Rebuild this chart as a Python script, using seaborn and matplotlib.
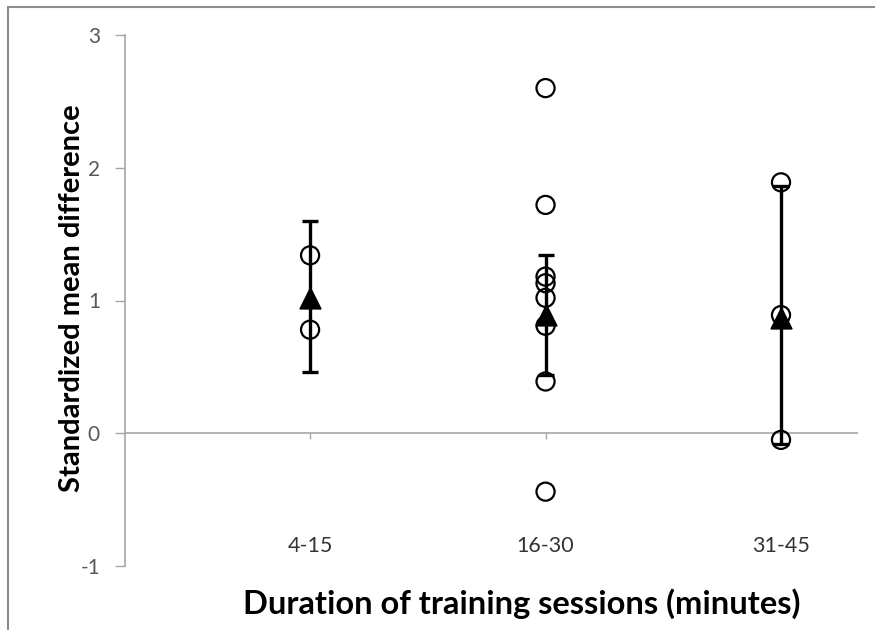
import matplotlib
matplotlib.use("Agg")
import matplotlib.pyplot as plt
from matplotlib.patches import Rectangle
import seaborn as sns
import pandas as pd

# Session-duration groups and their individual study effect sizes
groups = ["4-15", "16-30", "31-45"]
study_group = ["4-15", "4-15",
               "16-30", "16-30", "16-30", "16-30", "16-30", "16-30", "16-30", "16-30",
               "31-45", "31-45", "31-45"]
study_smd = [1.34, 0.78,
             2.60, 1.72, 1.18, 1.13, 1.02, 0.81, 0.39, -0.44,
             1.89, 0.89, -0.05]

# Pooled estimates with confidence limits per group
pooled_mean = [1.02, 0.89, 0.87]
ci_low = [0.46, 0.44, -0.08]
ci_high = [1.60, 1.34, 1.86]

yticks = [-1, 0, 1, 2, 3]

sns.set_theme(style="white")
plt.rcParams["font.family"] = ["Lato", "DejaVu Sans"]

fig = plt.figure(figsize=(8.75, 6.3), dpi=100)
ax = fig.add_axes([125 / 875, 1 - 566 / 630, (858 - 125) / 875, (566 - 35) / 630])

pos = {g: i for i, g in enumerate(groups)}
df = pd.DataFrame({"x": [pos[g] for g in study_group], "smd": study_smd})
pooled = pd.DataFrame({"x": list(range(len(groups))), "mean": pooled_mean,
                       "lo": ci_low, "hi": ci_high})

# Confidence intervals for the pooled estimates
ax.errorbar(pooled["x"], pooled["mean"],
            yerr=[pooled["mean"] - pooled["lo"], pooled["hi"] - pooled["mean"]],
            fmt="none", ecolor="black", elinewidth=2.4, capsize=6, capthick=2.4,
            zorder=2)

# Individual studies as open circles
sns.scatterplot(data=df, x="x", y="smd", ax=ax, marker="o", s=170,
                facecolor="none", edgecolor="black", linewidth=1.6, zorder=3,
                legend=False)

# Pooled means as filled triangles
sns.scatterplot(data=pooled, x="x", y="mean", ax=ax, marker="^", s=220,
                color="black", edgecolor="black", zorder=4, legend=False)

ax.set_xlim(-0.786, 2.327)
ax.set_ylim(-1, 3)

# Horizontal axis crossing at zero
ax.axhline(0, color="#a6a6a6", lw=1.2, zorder=1)
ax.vlines(range(len(groups)), -0.045, 0, color="#a6a6a6", lw=1.0, zorder=1)

for side in ["top", "right", "bottom"]:
    ax.spines[side].set_visible(False)
ax.spines["left"].set_color("#a6a6a6")
ax.spines["left"].set_linewidth(1.2)

ax.set_yticks(yticks)
ax.set_yticklabels([str(v) for v in yticks])
ax.tick_params(axis="y", direction="out", length=7, width=1.0, color="#a6a6a6",
               labelcolor="#595959", labelsize=15, pad=11, left=True)
ax.set_xticks([])

# Group labels along the bottom of the plot area
for i, g in enumerate(groups):
    ax.text(i, -0.85, g, ha="center", va="center", fontsize=15.5, color="#333333")

ax.set_xlabel("")
ax.set_ylabel("")
fig.text(522 / 875, 1 - 604 / 630, "Duration of training sessions (minutes)",
         ha="center", va="center", fontsize=23.5, fontweight="bold", color="black")
fig.text(72 / 875, 1 - 298 / 630, "Standardized mean difference",
         ha="center", va="center", rotation=90, fontsize=21, fontweight="bold",
         color="black")

# Chart frame
fig.patches.append(Rectangle((8 / 875, -0.1), 1.2, 1 - 7 / 630 + 0.1,
                             transform=fig.transFigure, fill=False,
                             edgecolor="#8c8c8c", lw=1.5, zorder=0))

fig.savefig("out.png", dpi=100)
